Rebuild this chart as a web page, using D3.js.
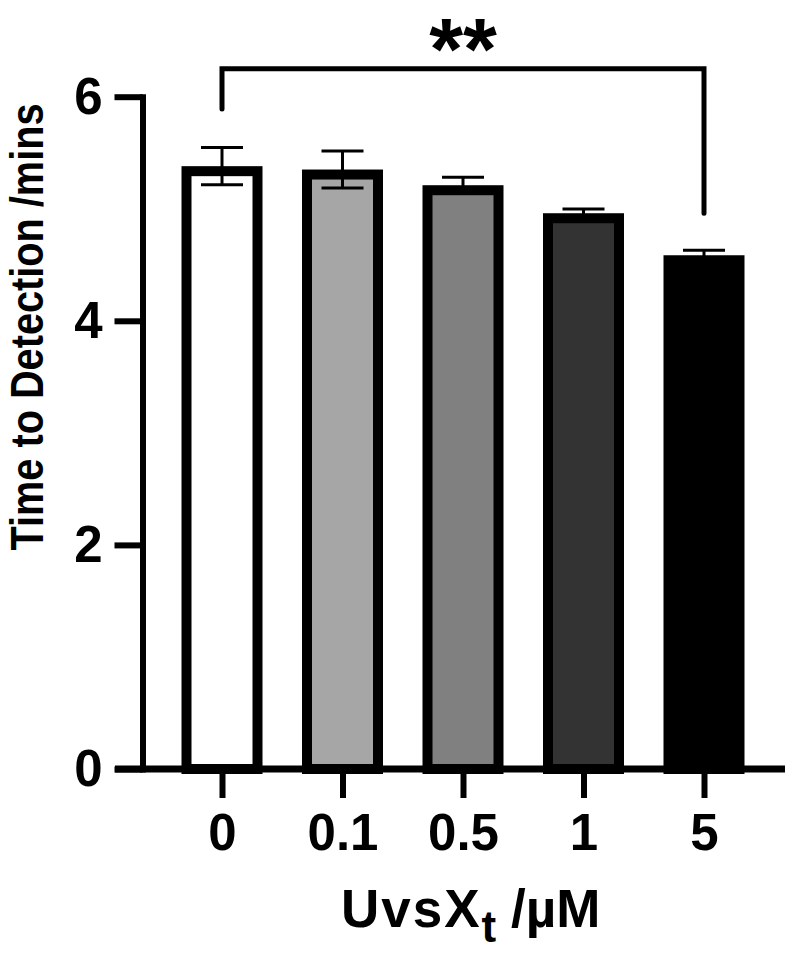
<!DOCTYPE html>
<html>
<head>
<meta charset="utf-8">
<script src="https://cdn.jsdelivr.net/npm/d3@7/dist/d3.min.js"></script>
<style>
  html, body { margin: 0; padding: 0; background: #fff; }
  svg { display: block; font-family: "Liberation Sans", Arial, sans-serif; font-weight: bold; }
</style>
</head>
<body>
<div id="chart"></div>
<script>
// data
const categories = ['0', '0.1', '0.5', '1', '5'];
const means = [5.38, 5.35, 5.21, 4.96, 4.585];
const errors = [0.166, 0.165, 0.071, 0.038, 0.045];
const fills = ['#ffffff', '#a6a6a6', '#808080', '#333333', '#000000'];
const yTicks = [0, 2, 4, 6];
// significance bracket between first and last group
const sigPair = ['0', '5'];
const sigLabel = '**';
const sigTop = 6.25, sigLeftEnd = 5.89, sigRightEnd = 4.96;

const W = 787, H = 953;
const svg = d3.select('#chart').append('svg').attr('width', W).attr('height', H);

const x = d3.scalePoint().domain(categories).range([222, 704]);
const y = d3.scaleLinear().domain([0, 6]).range([769, 96.7]);
const barW = 81, bw = 10;

// bars (border drawn inside the outer box)
svg.append('g').selectAll('rect')
  .data(categories)
  .enter()
  .append('rect')
  .attr('x', d => x(d) - barW / 2 + bw / 2)
  .attr('y', (d, i) => y(means[i]) + bw / 2)
  .attr('width', barW - bw)
  .attr('height', (d, i) => y(0) - y(means[i]) - bw / 2)
  .attr('fill', (d, i) => fills[i])
  .attr('stroke', '#000')
  .attr('stroke-width', bw);

// error bars
const eb = svg.append('g').attr('stroke', '#000').attr('stroke-width', 3);
categories.forEach((c, i) => {
  const cx = x(c), hi = y(means[i] + errors[i]), lo = y(means[i] - errors[i]);
  eb.append('line').attr('x1', cx).attr('x2', cx).attr('y1', hi).attr('y2', lo);
  [hi, lo].forEach(v => eb.append('line').attr('x1', cx - 21).attr('x2', cx + 21).attr('y1', v).attr('y2', v));
});

// y axis
const gy = svg.append('g').attr('transform', 'translate(142.5,0)')
  .call(d3.axisLeft(y).tickValues(yTicks).tickFormat(d3.format('d')).tickSize(28).tickSizeOuter(0).tickPadding(12));
gy.select('.domain').attr('stroke-width', 6).attr('stroke-linecap', 'square');
gy.selectAll('.tick line').attr('stroke-width', 6);
gy.selectAll('.tick text').attr('font-size', 51).attr('font-family', null).attr('fill', '#000');

// x axis
const gx = svg.append('g').attr('transform', `translate(0,${y(0)})`)
  .call(d3.axisBottom(x).tickSize(29).tickSizeOuter(0).tickPadding(16));
gx.select('.domain').remove();
gx.selectAll('.tick line').attr('stroke-width', 6);
gx.selectAll('.tick text').attr('font-size', 51).attr('font-family', null).attr('fill', '#000');
svg.append('line').attr('x1', 115).attr('x2', 785).attr('y1', y(0)).attr('y2', y(0))
  .attr('stroke', '#000').attr('stroke-width', 7);

// significance bracket
svg.append('path')
  .attr('d', d3.line()([[x(sigPair[0]), y(sigLeftEnd)], [x(sigPair[0]), y(sigTop)], [x(sigPair[1]), y(sigTop)], [x(sigPair[1]), y(sigRightEnd)]]))
  .attr('fill', 'none').attr('stroke', '#000').attr('stroke-width', 5)
  .attr('stroke-linecap', 'round');
svg.append('text')
  .attr('x', (x(sigPair[0]) + x(sigPair[1])) / 2).attr('y', 79)
  .attr('text-anchor', 'middle').attr('font-size', 87).text(sigLabel);

// axis titles
svg.append('text')
  .attr('transform', 'translate(43,327) rotate(-90)')
  .attr('text-anchor', 'middle').attr('font-size', 46)
  .attr('textLength', 447).attr('lengthAdjust', 'spacingAndGlyphs')
  .text('Time to Detection /mins');

const xt = svg.append('text').attr('x', 341).attr('y', 927).attr('font-size', 53);
xt.append('tspan').attr('letter-spacing', 2).text('UvsX');
xt.append('tspan').attr('font-size', 44).attr('dy', 15).text('t');
xt.append('tspan').attr('dy', -15).text(' /µM');
</script>
</body>
</html>
